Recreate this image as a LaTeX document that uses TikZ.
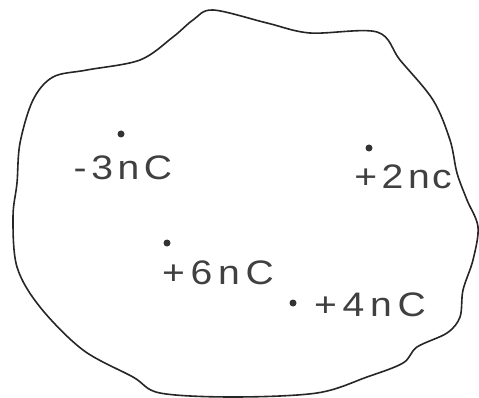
\documentclass[tikz,border=0pt]{standalone}
\usepackage{fontspec}
\usepackage{graphicx}
\setmainfont{Liberation Sans}
\begin{document}
\begin{tikzpicture}[x=1pt,y=-1pt,
  outline/.style={draw=black!85, line width=1.6pt, line join=round},
  charge/.style={fill=black!80, draw=none, circle, inner sep=0pt, minimum size=7pt},
  lbl/.style={text=black!75, inner sep=0pt, font=\fontsize{34}{34}\selectfont}]
\useasboundingbox[fill=white] (0,0) rectangle (479,398);
\draw[outline] plot[smooth cycle, tension=0.55] coordinates {
 (213,10) (267,23) (310,33) (377,32) (400,60) (433,100) (450,140) (457,173)
 (467,200) (478,227) (473,260) (463,290) (460,317) (447,333) (417,347)
 (403,363) (367,377) (317,393) (233,397) (160,393) (133,377) (83,350)
 (40,307) (17,267) (13,217) (17,183) (20,143) (33,100) (53,77) (87,70)
 (140,60) (173,37) (193,20)};
\node[charge] (q1) at (121,134) {};
\node[charge] (q2) at (369,148) {};
\node[charge] (q3) at (167,243) {};
\node[charge] (q4) at (293,303) {};
\node[lbl] (l1) at (123,168) {\scalebox{1.15}[1]{-\hspace{4pt}3\hspace{4pt}n\hspace{4pt}C}};
\node[lbl] (l2) at (403,177) {\scalebox{1.15}[1]{+\hspace{4pt}2\hspace{4pt}n\hspace{2pt}c}};
\node[lbl] (l3) at (218,273) {\scalebox{1.15}[1]{+\hspace{5pt}6\hspace{5pt}n\hspace{5pt}C}};
\node[lbl] (l4) at (370,305) {\scalebox{1.15}[1]{+\hspace{5pt}4\hspace{5pt}n\hspace{5pt}C}};
\end{tikzpicture}
\end{document}
